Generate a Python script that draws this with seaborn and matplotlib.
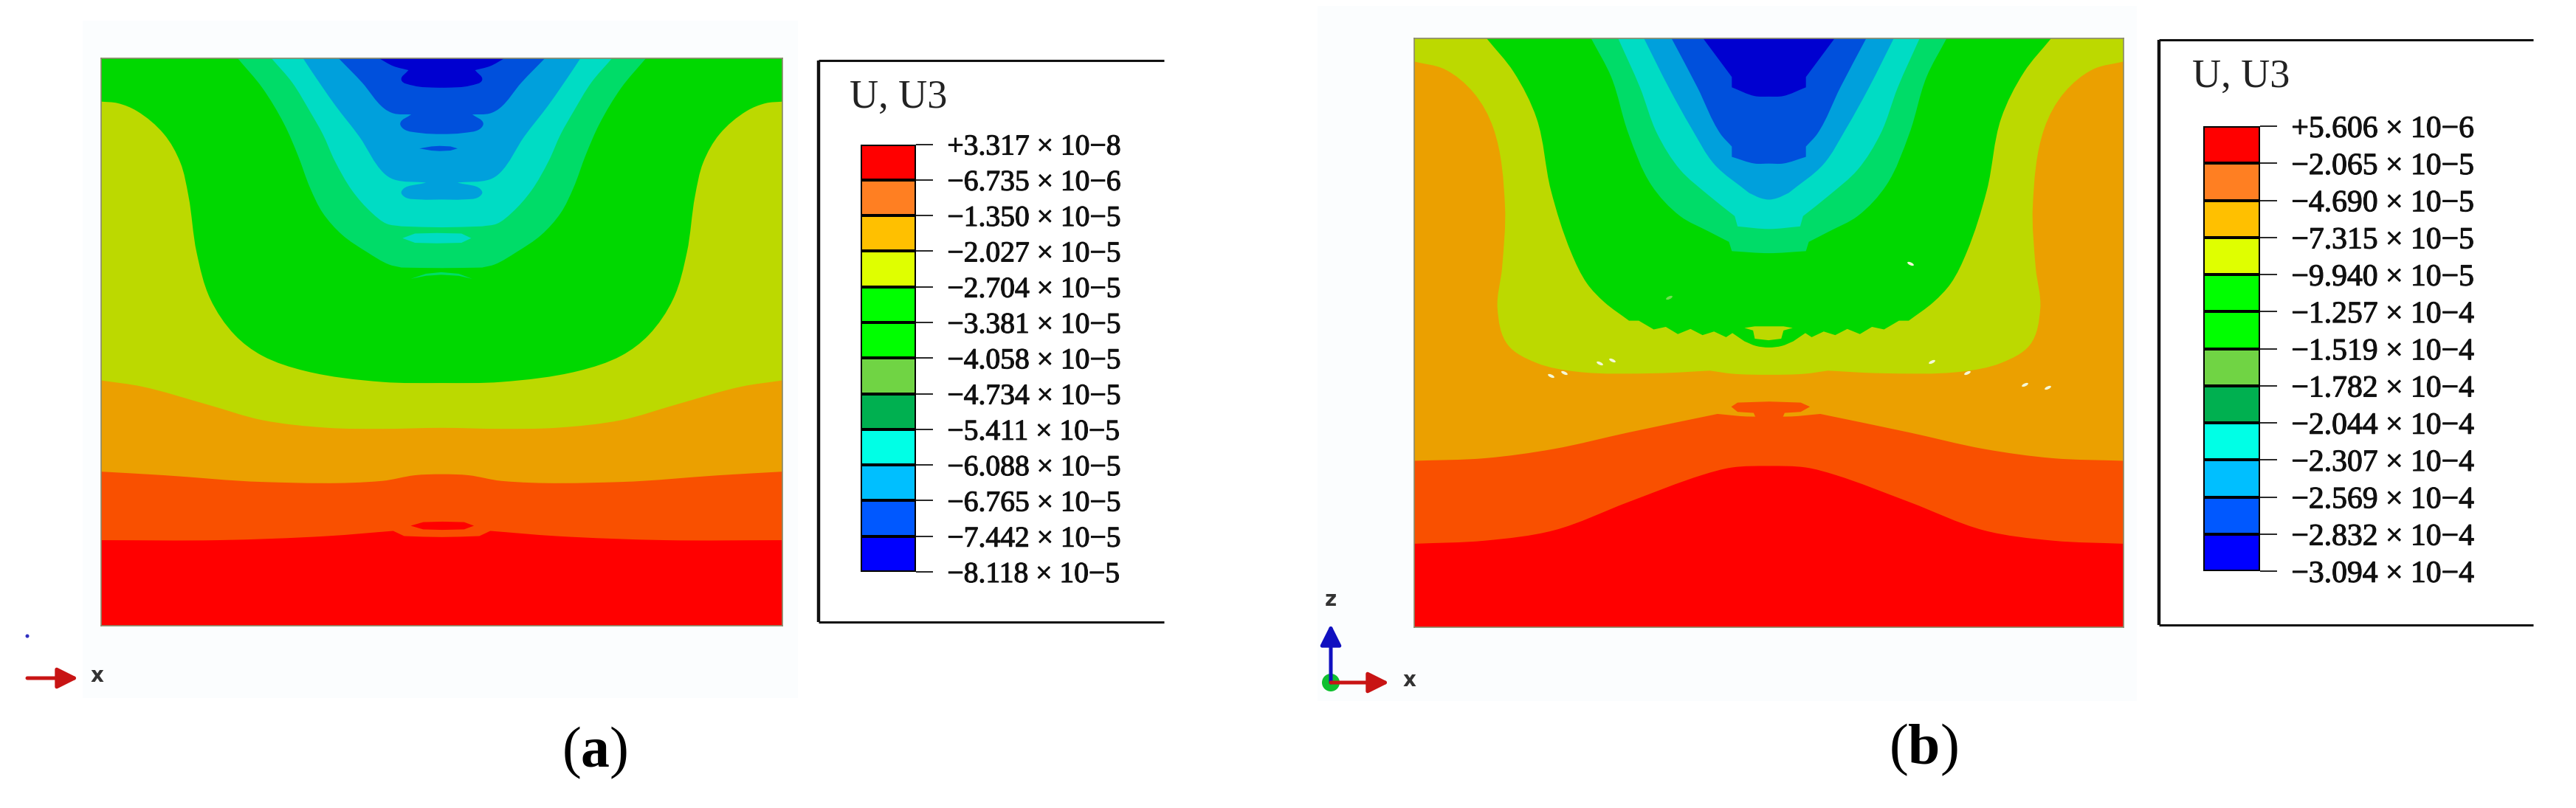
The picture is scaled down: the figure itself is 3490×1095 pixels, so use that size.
import numpy as np
import pandas as pd
import seaborn as sns
import matplotlib.pyplot as plt
import matplotlib.patheffects as pe
from matplotlib.colors import ListedColormap, BoundaryNorm
from matplotlib.markers import MarkerStyle
from matplotlib.patches import Rectangle, Circle, PathPatch
from matplotlib.path import Path
from matplotlib.transforms import Affine2D

## Contour colours ##
red = '#FF0000'
orange = '#F95000'
amber = '#EBA000'
yellowgreen = '#BCD900'
green = '#00D800'
lgreen = '#00DC68'
teal = '#00DCC4'
blue = '#00A0DC'
dblue = '#0050DC'
deep = '#0000D0'
legend_colors = ['#FF0000', '#FF7F22', '#FFC000', '#DFFF00', '#00FF00', '#00FF00',
                 '#70D444', '#00B050', '#00FFE6', '#00BFFF', '#0058FF', '#0000FF']

## U3 levels ##
levels_a = [3.317e-8, -6.735e-6, -1.350e-5, -2.027e-5, -2.704e-5, -3.381e-5, -4.058e-5,
            -4.734e-5, -5.411e-5, -6.088e-5, -6.765e-5, -7.442e-5, -8.118e-5]
levels_b = [5.606e-6, -2.065e-5, -4.690e-5, -7.315e-5, -9.940e-5, -1.257e-4, -1.519e-4,
            -1.782e-4, -2.044e-4, -2.307e-4, -2.569e-4, -2.832e-4, -3.094e-4]

## Panel a: left half of each contour, traced units ##
a_xlim = (185, 1433)
a_ylim = (1214, 113)
a_red_x = [185, 400, 600, 720, 740, 809]
a_red_y = [1048, 1048, 1040, 1030, 1040, 1042]
a_orange_x = [185, 300, 480, 700, 760, 809]
a_orange_y = [915, 922, 935, 933, 922, 920]
a_amber_x = [185, 260, 380, 480, 600, 700, 809]
a_amber_y = [738, 750, 785, 815, 830, 832, 830]
a_yellow_x = [185, 215, 250, 300, 330, 345, 360, 385, 430, 480, 560, 700, 809]
a_yellow_y = [197, 200, 215, 260, 315, 380, 490, 580, 650, 690, 720, 741, 743]
a_green_x = [435, 480, 520, 545, 568, 591, 627, 672, 712, 735, 809]
a_green_y = [113, 170, 240, 300, 365, 413, 456, 489, 513, 519, 520]
a_lgreen_x = [497, 535, 568, 591, 613, 645, 681, 708, 735, 809]
a_lgreen_y = [113, 160, 217, 260, 312, 370, 413, 434, 439, 441]
a_teal_x = [555, 568, 613, 658, 703, 721, 780, 735, 741, 771, 809]
a_teal_y = [113, 134, 203, 265, 336, 348, 354, 372, 382, 387, 387]
a_blue_x = [620, 663, 703, 721, 753, 733, 739, 771, 809]
a_blue_y = [113, 160, 210, 220, 222, 239, 250, 258, 260]
a_dblue_x = [694, 720, 748, 735, 757, 802, 809]
a_dblue_y = [113, 128, 136, 155, 166, 170, 170]

# small closed islands
a_lens_red_x = [752, 775, 810, 850, 868, 850, 810, 775]
a_lens_red_y = [1020, 1013, 1012, 1013, 1020, 1027, 1028, 1027]
a_lens_teal_x = [737, 760, 800, 845, 863, 845, 800, 760]
a_lens_teal_y = [462, 453, 452, 453, 462, 471, 472, 471]
a_lens_arc_x = [752, 780, 808, 840, 865, 840, 808, 780]
a_lens_arc_y = [541, 531, 528, 531, 541, 535, 533, 535]
a_lens_blue_x = [768, 790, 805, 825, 838, 825, 805, 790]
a_lens_blue_y = [288, 284, 283, 284, 288, 292, 293, 292]

## Panel b ##
b_xlim = (277, 1512)
b_ylim = (1218, 75)
b_red_x = [277, 400, 520, 650, 780, 830, 895]
b_red_y = [1056, 1050, 1030, 975, 922, 908, 905]
b_orange_x = [277, 400, 520, 650, 805, 856, 895]
b_orange_y = [895, 890, 872, 840, 804, 809, 809]
b_amber_x = [277, 330, 380, 415, 435, 430, 422, 440, 490, 560, 700, 792, 831, 895]
b_amber_y = [120, 135, 180, 250, 400, 520, 600, 670, 705, 722, 725, 720, 726, 728]
b_yellow_x = [403, 450, 490, 515, 550, 578, 608, 651, 668, 694, 715, 736, 758, 779, 799, 820, 831, 852, 872, 895]
b_yellow_y = [75, 140, 230, 370, 490, 551, 587, 623, 623, 640, 635, 649, 639, 651, 644, 655, 647, 663, 672, 675]
b_green_x = [585, 620, 650, 690, 740, 790, 825, 830, 895]
b_green_y = [75, 150, 260, 360, 420, 450, 470, 488, 492]
b_lgreen_x = [632, 670, 700, 740, 790, 835, 840, 895]
b_lgreen_y = [75, 170, 260, 330, 380, 420, 440, 445]
b_teal_x = [677, 720, 760, 800, 860, 880, 895]
b_teal_y = [75, 170, 250, 320, 375, 385, 388]
b_blue_x = [725, 770, 810, 830, 830, 870, 895]
b_blue_y = [75, 170, 260, 285, 305, 318, 318]
b_dblue_x = [780, 810, 830, 830, 870, 895]
b_dblue_y = [75, 120, 150, 170, 187, 188]

b_lens_orange_x = [829, 840, 895, 950, 966, 950, 922, 918, 872, 868, 840]
b_lens_orange_y = [790, 782, 780, 782, 790, 800, 802, 812, 812, 802, 800]
b_lens_yellow_x = [852, 870, 894, 920, 936, 920, 916, 894, 870, 867]
b_lens_yellow_y = [637, 634, 634, 634, 637, 642, 658, 661, 658, 642]
b_specks_up_x = [515, 538, 600, 622, 1140]
b_specks_up_y = [730, 724, 705, 700, 512]
b_specks_down_x = [1178, 1240, 1340, 1380]
b_specks_down_y = [702, 724, 747, 753]
b_speck_green_x = [720]
b_speck_green_y = [578]

W, H = 3491, 1095

sns.set_theme(style='white')
plt.rcParams['font.family'] = ['Liberation Serif', 'DejaVu Serif']
plt.rcParams['mathtext.fontset'] = 'custom'
plt.rcParams['mathtext.bf'] = 'Liberation Serif:bold'
plt.rcParams['mathtext.rm'] = 'Liberation Serif'

fig = plt.figure(figsize=(W / 100, H / 100), dpi=100, facecolor='white')

# whole figure in pixels, for frames and captions
page = fig.add_axes([0, 0, 1, 1], zorder=0)
page.set_xlim(0, W)
page.set_ylim(H, 0)
page.axis('off')


def px_axes(left, top, right, bottom, z=2):
    return fig.add_axes([left / W, 1 - bottom / H, (right - left) / W, (bottom - top) / H], zorder=z)


def bezier_through(pts, corners):
    # curved path through the traced points, sharp at the corners
    n = len(pts)
    t_in = np.zeros((n, 2))
    t_out = np.zeros((n, 2))
    for i in range(n):
        prev_d = pts[i] - pts[i - 1] if i > 0 else pts[1] - pts[0]
        next_d = pts[i + 1] - pts[i] if i < n - 1 else pts[-1] - pts[-2]
        prev_d = prev_d / max(np.linalg.norm(prev_d), 1e-9)
        next_d = next_d / max(np.linalg.norm(next_d), 1e-9)
        if i in corners:
            t_in[i], t_out[i] = prev_d, next_d
        else:
            both = prev_d + next_d
            both = both / max(np.linalg.norm(both), 1e-9)
            t_in[i], t_out[i] = both, both
    verts, codes = [pts[0]], [Path.MOVETO]
    for i in range(n - 1):
        step = np.linalg.norm(pts[i + 1] - pts[i]) / 3
        verts += [pts[i] + t_out[i] * step, pts[i + 1] - t_in[i + 1] * step, pts[i + 1]]
        codes += [Path.CURVE4] * 3
    return verts, codes


def contour_patch(ax, xs, ys, xlim, ylim, color, corners=()):
    mid = sum(xlim) / 2
    xs = np.array(xs, float)
    ys = np.array(ys, float)
    xs[-1] = mid
    pts = np.c_[np.r_[xs, 2 * mid - xs[-2::-1]], np.r_[ys, ys[-2::-1]]]
    last = len(pts) - 1
    all_corners = set(corners) | {last - c for c in corners}
    verts, codes = bezier_through(pts, all_corners)
    verts = [(pts[0][0], ylim[1])] + verts + [(pts[-1][0], ylim[1]), (pts[0][0], ylim[1])]
    codes = [Path.MOVETO, Path.LINETO] + codes[1:] + [Path.LINETO, Path.CLOSEPOLY]
    ax.add_patch(PathPatch(Path(verts, codes), facecolor=color, lw=0))


def contour_panel(box, xlim, ylim, curves, islands):
    ax = px_axes(*box)
    ax.set_facecolor(red)
    for xs, ys, c, corners in curves:
        contour_patch(ax, xs, ys, xlim, ylim, c, corners)
    for xs, ys, c in islands:
        ax.fill(xs, ys, color=c, lw=0)
    ax.set_xlim(*xlim)
    ax.set_ylim(*ylim)
    ax.set_xticks([])
    ax.set_yticks([])
    for s in ax.spines.values():
        s.set_visible(True)
        s.set_color('#8a8a6a')
        s.set_linewidth(1.2)
    return ax


def level_label(v):
    mant, exp = f'{v:+.3e}'.split('e')
    return f'{mant} × 10{int(exp):+d}'.replace('-', '−')


def legend_strip(levels, box, size):
    ax = px_axes(*box, z=3)
    lv = np.array(levels)
    mids = (lv[:-1] + lv[1:]) / 2
    cmap = ListedColormap(legend_colors[::-1])
    norm = BoundaryNorm(lv[::-1], cmap.N)
    sns.heatmap(pd.DataFrame(mids.reshape(-1, 1)), cmap=cmap, norm=norm, cbar=False,
                linewidths=1.6, linecolor='black', ax=ax)
    ax.yaxis.tick_right()
    ax.set_xticks([])
    ax.set_yticks(np.arange(len(lv)))
    ax.set_yticklabels([level_label(v) for v in lv], rotation=0, fontsize=size, color='#111111')
    for lab in ax.get_yticklabels():
        lab.set_path_effects([pe.withStroke(linewidth=0.8, foreground='#111111')])
    ax.tick_params(axis='y', length=16.5, width=1.2, color='black', pad=14, right=True)
    return ax


def open_frame(left, top, right, bottom):
    page.plot([left, left], [top, bottom], color='#111111', lw=3.2, solid_capstyle='butt')
    page.plot([left, right], [top, top], color='#111111', lw=2.2, solid_capstyle='butt')
    page.plot([left, right], [bottom, bottom], color='#111111', lw=2.2, solid_capstyle='butt')


def arrow(x0, y0, x1, y1, color):
    page.annotate('', xy=(x1, y1), xytext=(x0, y0),
                  arrowprops=dict(arrowstyle='-|>,head_width=0.5,head_length=1.0', color=color, lw=3.6,
                                  shrinkA=0, shrinkB=0, mutation_scale=17))


## faint image backgrounds ##
page.add_patch(Rectangle((112, 28), 969, 918, color='#FBFDFE', lw=0))
page.add_patch(Rectangle((1785, 8), 1110, 942, color='#FBFDFE', lw=0))

## Panel a ##
curves_a = [(a_red_x, a_red_y, orange, [3, 4]), (a_orange_x, a_orange_y, amber, []),
            (a_amber_x, a_amber_y, yellowgreen, []), (a_yellow_x, a_yellow_y, green, []),
            (a_green_x, a_green_y, lgreen, [9]), (a_lgreen_x, a_lgreen_y, teal, [8]),
            (a_teal_x, a_teal_y, blue, [6]), (a_blue_x, a_blue_y, dblue, [4]),
            (a_dblue_x, a_dblue_y, deep, [2])]
islands_a = [(a_lens_red_x, a_lens_red_y, red), (a_lens_teal_x, a_lens_teal_y, teal),
             (a_lens_arc_x, a_lens_arc_y, lgreen), (a_lens_blue_x, a_lens_blue_y, dblue)]
contour_panel((137, 79, 1060, 848), a_xlim, a_ylim, curves_a, islands_a)

open_frame(1109, 82, 1577, 843)
page.text(1151, 133, 'U, U3', fontsize=39, color='#222222', ha='left', va='center')
legend_strip(levels_a, (1166, 195.5, 1241, 775), 28.5)

## Panel b ##
curves_b = [(b_red_x, b_red_y, orange, []), (b_orange_x, b_orange_y, amber, [4]),
            (b_amber_x, b_amber_y, yellowgreen, [11]),
            (b_yellow_x, b_yellow_y, green, list(range(7, 18))),
            (b_green_x, b_green_y, lgreen, [6, 7]), (b_lgreen_x, b_lgreen_y, teal, [5, 6]),
            (b_teal_x, b_teal_y, blue, [4]), (b_blue_x, b_blue_y, dblue, [3, 4]),
            (b_dblue_x, b_dblue_y, deep, [2, 3])]
islands_b = [(b_lens_orange_x, b_lens_orange_y, orange), (b_lens_yellow_x, b_lens_yellow_y, yellowgreen)]
ax_b = contour_panel((1916, 52, 2877, 850), b_xlim, b_ylim, curves_b, islands_b)

speck_up = MarkerStyle('o', transform=Affine2D().scale(1.7, 0.7).rotate_deg(-25))
speck_down = MarkerStyle('o', transform=Affine2D().scale(1.7, 0.7).rotate_deg(25))
sns.scatterplot(x=b_specks_up_x, y=b_specks_up_y, color='#F4F8D8', s=16, linewidth=0, marker=speck_up,
                legend=False, ax=ax_b)
sns.scatterplot(x=b_specks_down_x, y=b_specks_down_y, color='#F4F8D8', s=16, linewidth=0, marker=speck_down,
                legend=False, ax=ax_b)
sns.scatterplot(x=b_speck_green_x, y=b_speck_green_y, color='#70E050', s=16, linewidth=0, marker=speck_down,
                legend=False, ax=ax_b)
ax_b.set_xlim(*b_xlim)
ax_b.set_ylim(*b_ylim)

open_frame(2925, 54, 3432, 847)
page.text(2970, 105, 'U, U3', fontsize=39, color='#222222', ha='left', va='center')
legend_strip(levels_b, (2985, 171, 3062, 774), 30)

## Axis triads ##
sans = 'DejaVu Sans'
arrow(37, 919, 106, 919, '#C81414')
page.text(132, 916, 'x', family=sans, weight='bold', fontsize=20, color='#333333', ha='center', va='center')
page.add_patch(Circle((37, 862), 2.5, color='#3030C0', lw=0))

page.add_patch(Circle((1803, 925), 12, color='#10C030', lw=0))
arrow(1803, 925, 1803, 846, '#1010C0')
arrow(1803, 925, 1882, 925, '#C81414')
page.text(1803, 813, 'z', family=sans, weight='bold', fontsize=20, color='#333333', ha='center', va='center')
page.text(1910, 922, 'x', family=sans, weight='bold', fontsize=20, color='#333333', ha='center', va='center')

## Captions ##
page.text(806, 1020, r'($\mathbf{a}$)', fontsize=56, color='black', ha='center', va='center')
page.text(2606, 1016, r'($\mathbf{b}$)', fontsize=56, color='black', ha='center', va='center')

fig.savefig('out.png', dpi=100, facecolor='white')
